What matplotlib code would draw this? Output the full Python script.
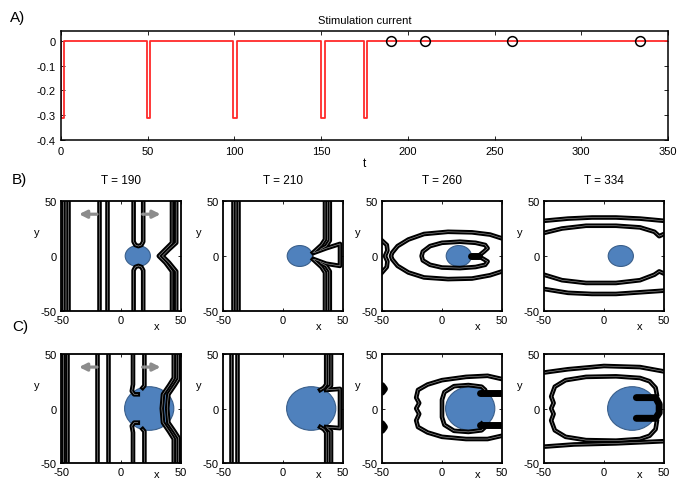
import numpy as np
import matplotlib
matplotlib.use("Agg")
import matplotlib.pyplot as plt
from matplotlib.patches import Ellipse

plt.rcParams['font.family'] = ['Liberation Sans', 'DejaVu Sans']
plt.rcParams['axes.unicode_minus'] = False

# stimulation protocol
pulse_starts = [0, 49.3, 99.2, 150.0, 174.7]
pulse_width = 2.0
pulse_amp = -0.31
t_end = 350
snapshot_t = [190, 210, 260, 334]
a_xticks = [0, 50, 100, 150, 200, 250, 300, 350]
a_yticks = [-0.4, -0.3, -0.2, -0.1, 0]
a_yticklabels = ['-0.4', '-0.3', '-0.2', '-0.1', '0']

# obstacle (centre x, centre y, width, height) for the two rows
obstacle_b = (14, 0, 21, 19)
obstacle_c = (23.5, 0, 41, 40)

# wave fronts per snapshot, row B (small obstacle)
fronts_b = [
    [  # T = 190
        [(-48, -50), (-48, 50)],
        [(-44.5, -50), (-44.5, 50)],
        [(-18.5, -50), (-18.5, 50)],
        [(-11.5, -50), (-11.5, 50)],
        [(10.5, 50), (10.5, 13), (12, 10), (14.5, 9), (17, 10), (18.5, 13), (18.5, 50)],
        [(10.5, -50), (10.5, -13), (12, -10), (14.5, -9), (17, -10), (18.5, -13), (18.5, -50)],
        [(42.5, 50), (42.5, 12), (37, 6), (31.5, 0), (37, -6), (42.5, -14), (42.5, -50)],
        [(46, 50), (46, 12), (40, 6), (34.5, 0), (40, -6), (46, -14), (46, -50)],
    ],
    [  # T = 210
        [(-41.5, -50), (-41.5, 50)],
        [(-37.5, -50), (-37.5, 50)],
        [(35, 50), (35, 15), (32, 10), (28, 6), (25, 3)],
        [(39, 50), (39, 14), (36, 9), (31, 6)],
        [(35, -50), (35, -15), (32, -10), (28, -6), (25, -3)],
        [(39, -50), (39, -14), (36, -9), (31, -6)],
        [(26, 3), (36, 7), (47.5, 11), (47.5, -9), (36, -7), (26, -3)],
    ],
    [  # T = 260
        [(-50, 14), (-46, 10), (-45.5, 5), (-47.5, 0), (-45.5, -5), (-46, -10), (-50, -15)],
        [(50, 16), (40, 19.5), (25, 21.5), (5, 22), (-15, 20), (-28, 15), (-37, 9),
         (-41.5, 3), (-42.5, 0), (-41.5, -3), (-37, -9), (-28, -15), (-15, -19.5),
         (5, -21), (25, -20.5), (40, -17.5), (50, -14)],
        [(31, 0.5), (35, 4), (38, 7), (36, 10), (28, 12), (15, 13), (0, 12), (-10, 9),
         (-16, 4), (-17, 0), (-16, -4), (-10, -8), (0, -10.5), (15, -11), (28, -10),
         (36, -8), (38, -5), (35, -3), (31, -0.5)],
    ],
    [  # T = 334
        [(-50, 32), (-30, 34), (-10, 35), (10, 35), (30, 34), (50, 32)],
        [(-50, 21), (-35, 25), (-15, 27.5), (10, 27.5), (30, 26), (42, 22), (46, 18), (50, 20)],
        [(-50, -17), (-35, -22), (-15, -24.5), (10, -24.5), (30, -22), (42, -17), (46, -14), (50, -16)],
        [(-50, -30), (-30, -33.5), (-10, -34.5), (10, -34.5), (30, -33), (50, -31.5)],
    ],
]
blobs_b = [[], [], [[(24, 0), (31, 0)]], []]

# wave fronts per snapshot, row C (large obstacle)
fronts_c = [
    [  # T = 190
        [(-48.5, -50), (-48.5, 50)],
        [(-45, -50), (-45, 50)],
        [(-20, -50), (-20, 50)],
        [(-11, -50), (-11, 50)],
        [(10, 50), (10, 22), (9, 16), (11, 13), (14, 13)],
        [(19.5, 50), (19.5, 21), (18, 19)],
        [(10, -50), (10, -22), (9, -16), (11, -13), (14, -13)],
        [(19.5, -50), (19.5, -21), (18, -19)],
        [(44, 50), (44, 28), (40, 21), (35, 13), (34, 0), (35, -13), (40, -21), (44, -28), (44, -50)],
        [(48, 50), (48, 27), (44.5, 21), (39.5, 13), (38.5, 0), (39.5, -13), (44.5, -21), (48, -27), (48, -50)],
    ],
    [  # T = 210
        [(-43, -50), (-43, 50)],
        [(-38.5, -50), (-38.5, 50)],
        [(36, 50), (36, 22), (34, 19), (31, 17)],
        [(40, 50), (40, 21), (37, 18)],
        [(36, -50), (36, -22), (34, -19), (31, -17)],
        [(40, -50), (40, -21), (37, -18)],
        [(36, 17), (47.5, 18), (47.5, -18), (36, -17)],
    ],
    [  # T = 260
        [(50, 27), (38, 30), (20, 29), (0, 26), (-12, 22), (-20, 17), (-21.5, 10), (-19, 5),
         (-21.5, 0), (-19, -5), (-21.5, -11), (-20, -17), (-12, -22), (0, -26), (20, -28),
         (38, -28), (50, -25)],
        [(33, 14), (36, 17), (33, 20), (22, 21.5), (10, 20.5), (2, 15), (0, 8), (0, -8),
         (2, -15), (10, -20.5), (22, -21.5), (33, -20), (36, -17), (33, -14)],
    ],
    [  # T = 334
        [(-50, 33), (-30, 36), (0, 39), (30, 38), (50, 34)],
        [(-50, -35), (-25, -33), (10, -32), (50, -30)],
        [(44, 13), (43, 19), (38, 25), (30, 28), (10, 29.5), (-15, 29), (-32, 26), (-41, 20),
         (-44, 11), (-42, 5), (-44, 0), (-42, -5), (-44, -11), (-41, -20), (-32, -26),
         (-15, -29), (10, -29.5), (30, -28), (38, -25), (43, -19), (44, -12)],
    ],
]
blobs_c = [
    [],
    [],
    [[(-50, 21), (-48, 18), (-50, 15)], [(-50, -14), (-48, -17), (-50, -20)],
     [(32, 14), (50, 14)], [(32, -15), (50, -15)]],
    [[(27, 10), (43, 10), (46, 4), (46, -4), (43, -9), (27, -9)]],
]

# arrows showing propagation direction in the first snapshot
arrow_left = ((-20, 38), (-35, 38))
arrow_right = ((18, 38), (33, 38))

W, H = 681, 481
fig = plt.figure(figsize=(W / 100, H / 100), dpi=100)


def px_axes(left, top, right, bottom):
    return fig.add_axes([left / W, 1 - bottom / H, (right - left) / W, (bottom - top) / H])


# ---- panel A: stimulation current ----
ts, ys = [], []
for s in pulse_starts:
    ts += [s, s, s + pulse_width, s + pulse_width]
    ys += [0, pulse_amp, pulse_amp, 0]
ts.append(t_end)
ys.append(0)

axA = px_axes(61, 32, 668, 141)
axA.plot(ts, ys, color='#ff2a2a', lw=1.3)
axA.plot(snapshot_t, np.zeros(len(snapshot_t)), 'o', ms=7, mfc='none', mec='black', mew=1.1)
axA.set_xlim(0, 350)
axA.set_ylim(-0.4, 0.04)
axA.set_xticks(a_xticks)
axA.set_yticks(a_yticks)
axA.set_yticklabels(a_yticklabels)
axA.tick_params(direction='in', length=3, width=0.6, labelsize=8, top=True, right=True, pad=4)
for sp in axA.spines.values():
    sp.set_linewidth(1.1)
axA.set_xlabel('t', fontsize=8.5, labelpad=1)
axA.set_title('Stimulation current', fontsize=8, pad=6)
fig.text(10 / W, 1 - 18 / H, 'A)', fontsize=11, va='center')


# ---- panels B and C: wave fronts around the obstacle ----
def draw_panel(ax, fronts, blobs, obstacle, title=None, arrows=False, xlab_y=-0.14):
    cx, cy, w, h = obstacle
    ax.add_patch(Ellipse((cx, cy), w, h, facecolor='#4f81bd', edgecolor='#3a5f8b',
                         lw=0.8, zorder=2))
    for pts in fronts:
        xy = np.array(pts)
        ax.plot(xy[:, 0], xy[:, 1], color='black', lw=3.3, zorder=3)
        ax.plot(xy[:, 0], xy[:, 1], color='#a8a8a8', lw=0.4, zorder=4)
    for pts in blobs:
        xy = np.array(pts)
        ax.plot(xy[:, 0], xy[:, 1], color='black', lw=5, zorder=5, solid_capstyle='round')
    if arrows:
        for start, end in (arrow_left, arrow_right):
            ax.annotate('', xy=end, xytext=start,
                        arrowprops=dict(arrowstyle='-|>', color='#8c8c8c', lw=2.3,
                                        mutation_scale=11, shrinkA=0, shrinkB=0))
    ax.set_xlim(-50, 50)
    ax.set_ylim(-50, 50)
    ax.set_xticks([-50, 0, 50])
    ax.set_yticks([-50, 0, 50])
    ax.tick_params(direction='in', length=2.5, width=0.6, labelsize=8,
                   top=True, right=True, pad=3)
    for sp in ax.spines.values():
        sp.set_linewidth(1.3)
        sp.set_zorder(6)
    ax.text(-0.2, 0.72, 'y', transform=ax.transAxes, fontsize=8, ha='center', va='center')
    ax.text(0.8, xlab_y, 'x', transform=ax.transAxes, fontsize=8, ha='center', va='center')
    if title:
        ax.text(0.5, 1.19, title, transform=ax.transAxes, fontsize=8.5, ha='center', va='center')


lefts = [61, 223, 382, 544]
for i, left in enumerate(lefts):
    axB = px_axes(left, 202, left + 120, 312)
    draw_panel(axB, fronts_b[i], blobs_b[i], obstacle_b,
               title='T = %d' % snapshot_t[i], arrows=(i == 0))
    axC = px_axes(left, 355, left + 120, 464)
    draw_panel(axC, fronts_c[i], blobs_c[i], obstacle_c, arrows=(i == 0), xlab_y=-0.105)

fig.text(12 / W, 1 - 180 / H, 'B)', fontsize=11, va='center')
fig.text(12 / W, 1 - 327 / H, 'C)', fontsize=11, va='center')

fig.savefig('out.png', dpi=100)
